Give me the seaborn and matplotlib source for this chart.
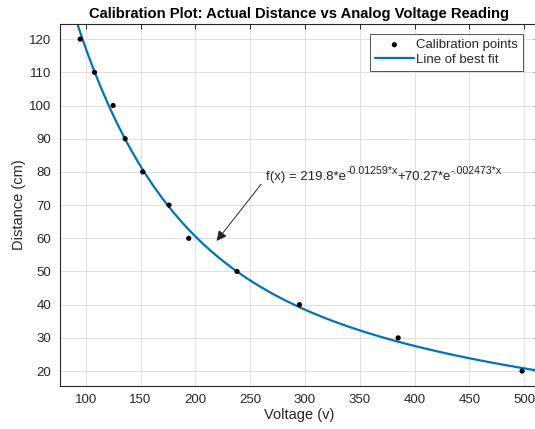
import numpy as np
import pandas as pd
import seaborn as sns
import matplotlib.pyplot as plt

voltage = [95, 108, 125, 136, 152, 176, 194, 238, 295, 385, 498]
distance = [120, 110, 100, 90, 80, 70, 60, 50, 40, 30, 20]

# fitted two-term exponential model shown in the annotation
a, b = 219.8, -0.01259
c, d = 70.27, -0.002473

x_ticks = [100, 150, 200, 250, 300, 350, 400, 450, 500]
y_ticks = [20, 30, 40, 50, 60, 70, 80, 90, 100, 110, 120]

sns.set_style("white")
plt.rcParams['font.family'] = ['Liberation Sans', 'DejaVu Sans']

fig = plt.figure(figsize=(5.35, 4.29), dpi=100)
ax = fig.add_axes([0.1116, 0.1002, 0.895, 0.845])

xfit = np.linspace(76, 515, 400)
fit = pd.DataFrame({"x": xfit, "y": a * np.exp(b * xfit) + c * np.exp(d * xfit)})
pts = pd.DataFrame({"x": voltage, "y": distance})

sns.scatterplot(data=pts, x="x", y="y", ax=ax, color="black", s=14,
                edgecolor="none", label="Calibration points", zorder=3)
sns.lineplot(data=fit, x="x", y="y", ax=ax, color="#0072BD", linewidth=1.6,
             label="Line of best fit", zorder=2)

ax.set_xlim(76.3, 513)
ax.set_ylim(15.5, 124.7)
ax.set_xticks(x_ticks)
ax.set_yticks(y_ticks)
ax.grid(True, color="#dedede", linewidth=0.7)
ax.set_axisbelow(True)
ax.tick_params(direction="in", top=True, right=True, length=3.5, width=0.7,
               colors="#262626", labelsize=9.5, pad=6)
for s in ax.spines.values():
    s.set_color("#262626")
    s.set_linewidth(0.8)

ax.set_xlabel("Voltage (v)", fontsize=10.5, color="#262626", labelpad=1)
ax.set_ylabel("Distance (cm)", fontsize=10.5, color="#262626", labelpad=2)
ax.set_title("Calibration Plot: Actual Distance vs Analog Voltage Reading",
             fontsize=10.6, fontweight="bold", color="black", pad=4)

# equation label, built piece by piece so the exponents keep a readable size
base_y = 77.6
pieces = [("f(x) = 219.8*e", 9.5, 0), ("-0.01259*x", 7.7, 4.2),
          ("+70.27*e", 9.5, 0), ("-.002473*x", 7.7, 4.2)]
prev = ax.text(264.5, base_y, pieces[0][0], fontsize=pieces[0][1],
               va="baseline", ha="left", color="#262626")
for txt, size, rise in pieces[1:]:
    prev = ax.annotate(txt, xy=(1, base_y), xycoords=(prev, "data"),
                       xytext=(0, rise), textcoords="offset points",
                       fontsize=size, va="baseline", ha="left", color="#262626")

ax.annotate("", xy=(219.4, 59.2), xytext=(260, 76.3),
            arrowprops=dict(arrowstyle="-|>", color="#262626", lw=0.7,
                            mutation_scale=15, shrinkA=0, shrinkB=0))

leg = ax.legend(loc="upper right", bbox_to_anchor=(0.975, 0.981), fontsize=9.5,
                frameon=True, fancybox=False, borderpad=0.35, labelspacing=0.2,
                handlelength=3.0, handletextpad=0.15, borderaxespad=0.3)
leg.get_frame().set_edgecolor("#262626")
leg.get_frame().set_linewidth(0.7)

fig.savefig("out.png", dpi=100)
